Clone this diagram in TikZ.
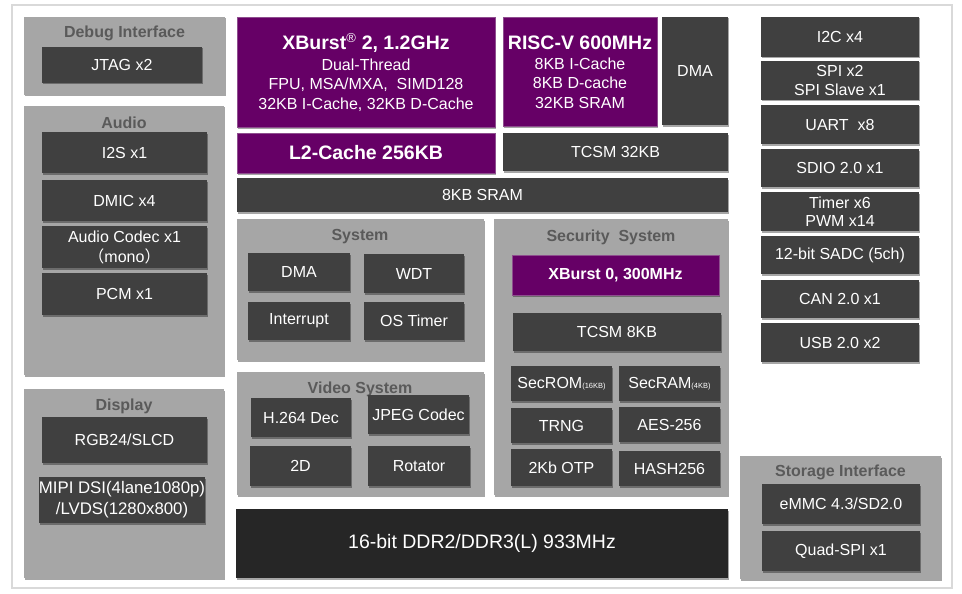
\documentclass[tikz,border=0pt]{standalone}
\usepackage{fontspec}
\setmainfont{Liberation Sans}
\newfontfamily\cjk{Noto Sans CJK SC}
\usetikzlibrary{shadows}
\definecolor{dark}{HTML}{404040}
\definecolor{darker}{HTML}{262626}
\definecolor{grp}{HTML}{A6A6A6}
\definecolor{gtxt}{HTML}{5A5A5A}
\definecolor{purp}{HTML}{660066}
\definecolor{purpedge}{HTML}{8E4E8E}
\definecolor{framec}{HTML}{D9D9D9}
\tikzset{
  shad/.style={drop shadow={shadow xshift=1.2pt, shadow yshift=-1.5pt, opacity=0.35, fill=black}},
  dbox/.style={fill=dark, text=white, inner sep=0pt, align=center, shad,
    font=\fontsize{16}{19.5}\selectfont},
  pbox/.style={fill=purp, draw=purpedge, line width=0.8pt, text=white, inner sep=0pt, align=center, shad,
    font=\fontsize{16}{19.5}\selectfont},
  grpbox/.style={fill=grp, inner sep=0pt, shad},
  gtitle/.style={text=gtxt, inner sep=0pt, font=\bfseries\fontsize{16}{19}\selectfont},
  big/.style={font=\bfseries\fontsize{19.5}{22}\selectfont},
}
\newcommand\subsz{\fontsize{7.5}{8}\selectfont}
\begin{document}
\begin{tikzpicture}[x=1pt,y=-1pt]
\useasboundingbox (0,0) rectangle (962,594);
\fill[white] (0,0) rectangle (962,594);
\node[draw=framec, line width=2pt, minimum width=940pt, minimum height=583pt, inner sep=0pt] (frame) at (482,296.5) {};

% ---- groups ----
\node[grpbox, minimum width=201pt, minimum height=78pt] (debug) at (124.5,56) {};
\node[gtitle] (debugT) at (124.5,33) {Debug Interface};
\node[grpbox, minimum width=200pt, minimum height=269pt] (audio) at (124,240.5) {};
\node[gtitle] (audioT) at (124,123) {Audio};
\node[grpbox, minimum width=200pt, minimum height=189pt] (display) at (124,483.5) {};
\node[gtitle] (displayT) at (124,406) {Display};
\node[grpbox, minimum width=247pt, minimum height=141pt] (system) at (360.5,289.5) {};
\node[gtitle] (systemT) at (360,237) {System};
\node[grpbox, minimum width=247pt, minimum height=123pt] (video) at (360.5,433.5) {};
\node[gtitle] (videoT) at (360,389) {Video System};
\node[grpbox, minimum width=234pt, minimum height=276pt] (security) at (611,357) {};
\node[gtitle] (securityT) at (611,237) {Security\ \ System};
\node[grpbox, minimum width=201pt, minimum height=123pt] (storage) at (840.5,517.5) {};
\node[gtitle] (storageT) at (840.5,472) {Storage Interface};

% ---- left column ----
\node[dbox, minimum width=160pt, minimum height=36pt] (jtag) at (122,65) {JTAG x2};
\node[dbox, minimum width=165pt, minimum height=41pt] (i2s) at (124.5,152.5) {I2S x1};
\node[dbox, minimum width=165pt, minimum height=41pt] (dmic) at (124.5,200.5) {DMIC x4};
\node[dbox, minimum width=165pt, minimum height=42pt, font=\fontsize{16}{20}\selectfont] (codec) at (124.5,247) {Audio Codec x1\\{\cjk （}mono{\cjk ）}};
\node[dbox, minimum width=165pt, minimum height=42pt] (pcm) at (124.5,294) {PCM x1};
\node[dbox, minimum width=165pt, minimum height=46pt] (rgb) at (124.5,440) {RGB24/SLCD};
\node[dbox, minimum width=164pt, minimum height=46pt, font=\fontsize{16.8}{21}\selectfont] (mipi) at (122,500) {MIPI DSI(4lane1080p)\\/LVDS(1280x800)};

% ---- CPU area ----
\node[pbox, minimum width=258pt, minimum height=110pt] (xb2) at (366,72) {};
\node[text=white, big, inner sep=0pt] (xb2T) at (366,43) {XBurst\textsuperscript{\normalfont\fontsize{13}{13}\selectfont ®} 2, 1.2GHz};
\node[text=white, align=center, inner sep=0pt, font=\fontsize{16}{19.5}\selectfont] (xb2L) at (366,85) {Dual-Thread\\FPU, MSA/MXA,\ \ SIMD128\\32KB I-Cache, 32KB D-Cache};
\node[pbox, minimum width=154pt, minimum height=109pt] (riscv) at (580,71.5) {};
\node[text=white, big, inner sep=0pt] (riscvT) at (580,43) {RISC-V 600MHz};
\node[text=white, align=center, inner sep=0pt, font=\fontsize{16}{19.5}\selectfont] (riscvL) at (580,83) {8KB I-Cache\\8KB D-cache\\32KB SRAM};
\node[dbox, minimum width=66pt, minimum height=108pt] (dma1) at (695,71) {DMA};
\node[pbox, minimum width=258pt, minimum height=40pt, big] (l2) at (366,153) {L2-Cache 256KB};
\node[dbox, minimum width=225pt, minimum height=38pt] (tcsm32) at (615.5,152) {TCSM 32KB};
\node[dbox, minimum width=491pt, minimum height=34pt] (sram) at (482.5,195) {8KB SRAM};

% ---- system ----
\node[dbox, minimum width=102pt, minimum height=38pt] (dma2) at (299,272) {DMA};
\node[dbox, minimum width=100pt, minimum height=39pt] (wdt) at (414,273.5) {WDT};
\node[dbox, minimum width=102pt, minimum height=38pt] (intr) at (299,321) {Interrupt};
\node[dbox, minimum width=100pt, minimum height=38pt] (ostimer) at (414,321) {OS Timer};

% ---- video ----
\node[dbox, minimum width=100pt, minimum height=39pt] (h264) at (301,417.5) {H.264 Dec};
\node[dbox, minimum width=101pt, minimum height=39pt] (jpeg) at (418.5,414.5) {JPEG Codec};
\node[dbox, minimum width=101pt, minimum height=40pt] (d2) at (300.5,466) {2D};
\node[dbox, minimum width=102pt, minimum height=40pt] (rot) at (419,466) {Rotator};

% ---- security ----
\node[pbox, minimum width=207pt, minimum height=40pt, font=\bfseries\fontsize{16}{19}\selectfont] (xb0) at (615.5,275) {XBurst 0, 300MHz};
\node[dbox, minimum width=208pt, minimum height=38pt] (tcsm8) at (617,332) {TCSM 8KB};
\node[dbox, minimum width=101pt, minimum height=35pt] (secrom) at (561.5,383.5) {SecROM{\subsz(16KB)}};
\node[dbox, minimum width=101pt, minimum height=35pt] (secram) at (669.5,383.5) {SecRAM{\subsz(4KB)}};
\node[dbox, minimum width=101pt, minimum height=35pt] (trng) at (561.5,425.5) {TRNG};
\node[dbox, minimum width=101pt, minimum height=35pt] (aes) at (669.5,424.5) {AES-256};
\node[dbox, minimum width=101pt, minimum height=37pt] (otp) at (561.5,467.5) {2Kb OTP};
\node[dbox, minimum width=101pt, minimum height=35pt] (hash) at (669.5,468.5) {HASH256};

% ---- DDR ----
\node[fill=darker, text=white, inner sep=0pt, shad, minimum width=492pt, minimum height=69pt,
  font=\fontsize{19.5}{22}\selectfont] (ddr) at (482,543.5) {16-bit DDR2/DDR3(L) 933MHz};

% ---- right column ----
\node[dbox, minimum width=158pt, minimum height=40pt] (i2c) at (840,37) {I2C x4};
\node[dbox, minimum width=158pt, minimum height=39pt, font=\fontsize{16}{18.5}\selectfont] (spi) at (840,80.5) {SPI x2\\SPI Slave x1};
\node[dbox, minimum width=158pt, minimum height=39pt] (uart) at (840,124.5) {UART\ \ x8};
\node[dbox, minimum width=158pt, minimum height=38pt] (sdio) at (840,168) {SDIO 2.0 x1};
\node[dbox, minimum width=158pt, minimum height=39pt, font=\fontsize{16}{18.5}\selectfont] (timer) at (840,211.5) {Timer x6\\PWM x14};
\node[dbox, minimum width=158pt, minimum height=38pt] (sadc) at (840,255) {12-bit SADC (5ch)};
\node[dbox, minimum width=158pt, minimum height=38pt] (can) at (840,299) {CAN 2.0 x1};
\node[dbox, minimum width=158pt, minimum height=39pt] (usb) at (840,342.5) {USB 2.0 x2};
\node[dbox, minimum width=158pt, minimum height=40pt] (emmc) at (841,504) {eMMC 4.3/SD2.0};
\node[dbox, minimum width=158pt, minimum height=40pt] (qspi) at (841,551) {Quad-SPI x1};
\end{tikzpicture}
\end{document}
